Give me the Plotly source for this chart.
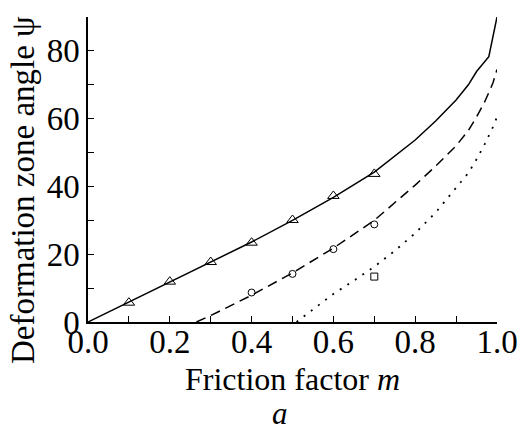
import plotly.graph_objects as go

# Curves
m_solid = [0, 0.1, 0.2, 0.3, 0.4, 0.5, 0.6, 0.7, 0.8, 0.85, 0.9, 0.93, 0.95, 0.98, 1.0]
psi_solid = [0, 5.9, 11.8, 17.7, 23.6, 30.0, 36.8, 44.2, 53.7, 59.3, 65.5, 70.0, 73.9, 78.3, 90.0]

m_dash = [0.265, 0.3, 0.4, 0.5, 0.6, 0.7, 0.8, 0.85, 0.9, 0.93, 0.95, 0.97, 0.99, 1.0]
psi_dash = [0, 1.9, 7.9, 14.5, 21.8, 30.0, 40.4, 46.0, 52.0, 56.5, 60.5, 65.0, 70.5, 74.5]

m_dot = [0.51, 0.55, 0.6, 0.65, 0.7, 0.75, 0.8, 0.85, 0.9, 0.93, 0.95, 0.97, 0.99, 1.0]
psi_dot = [0, 3.8, 8.3, 12.2, 16.3, 21.0, 26.2, 32.3, 39.5, 44.0, 48.0, 52.5, 57.5, 60.5]

# Experimental points
m_tri = [0.1, 0.2, 0.3, 0.4, 0.5, 0.6, 0.7]
psi_tri = [5.7, 11.9, 17.7, 23.4, 30.1, 37.2, 43.7]
m_circ = [0.4, 0.5, 0.6, 0.7]
psi_circ = [8.7, 14.2, 21.5, 28.8]
m_sq = [0.7]
psi_sq = [13.4]

x_tickvals = [0, 0.2, 0.4, 0.6, 0.8, 1.0]
x_ticktext = ["0.0", "0.2", "0.4", "0.6", "0.8", "1.0"]
y_tickvals = [0, 20, 40, 60, 80]

x_title = "Friction factor <i>m</i>"
y_title = "Deformation zone angle ψ"
panel_label = "<i>a</i>"

FONT = "Liberation Serif"

fig = go.Figure()
fig.add_trace(go.Scatter(x=m_solid, y=psi_solid, mode="lines",
                         line=dict(color="black", width=1.5)))
fig.add_trace(go.Scatter(x=m_dash, y=psi_dash, mode="lines",
                         line=dict(color="black", width=1.5, dash="10px,6px")))
fig.add_trace(go.Scatter(x=m_dot, y=psi_dot, mode="lines",
                         line=dict(color="black", width=1.8, dash="2px,7px")))
fig.add_trace(go.Scatter(x=m_tri, y=psi_tri, mode="markers",
                         marker=dict(symbol="triangle-up-open", size=10, color="black",
                                     line=dict(width=1))))
fig.add_trace(go.Scatter(x=m_circ, y=psi_circ, mode="markers",
                         marker=dict(symbol="circle-open", size=7, color="black",
                                     line=dict(width=1))))
fig.add_trace(go.Scatter(x=m_sq, y=psi_sq, mode="markers",
                         marker=dict(symbol="square-open", size=7, color="black",
                                     line=dict(width=1))))
# invisible carrier so that the tick-label axis (x2) is drawn
fig.add_trace(go.Scatter(x=x_tickvals, y=[None] * len(x_tickvals), xaxis="x2", yaxis="y",
                         mode="markers", marker=dict(opacity=0), hoverinfo="skip",
                         showlegend=False))

fig.update_layout(
    width=529, height=428,
    margin=dict(l=88, r=32, t=17, b=106),
    paper_bgcolor="white", plot_bgcolor="white",
    showlegend=False,
    font=dict(family=FONT, color="black", size=32),
    annotations=[
        dict(text=x_title, x=0.5, y=(322 - 379) / 305, xref="paper", yref="paper",
             xanchor="center", yanchor="middle", showarrow=False,
             font=dict(family=FONT, size=32, color="black")),
        dict(text=y_title, x=(23 - 88) / 409, y=(322 - 190) / 305, xref="paper", yref="paper",
             xanchor="center", yanchor="middle", showarrow=False, textangle=-90,
             font=dict(family=FONT, size=33, color="black")),
        dict(text=panel_label, x=(280 - 88) / 409, y=(322 - 413) / 305, xref="paper", yref="paper",
             xanchor="center", yanchor="middle", showarrow=False,
             font=dict(family=FONT, size=31, color="black")),
    ],
    xaxis=dict(
        range=[0, 1.0], tickvals=x_tickvals, showticklabels=False,
        showline=True, linecolor="black", linewidth=1.5,
        ticks="inside", ticklen=6, tickwidth=1, tickcolor="black",
        minor=dict(ticks="inside", dtick=0.1, ticklen=6, tickwidth=1, tickcolor="black"),
        showgrid=False, zeroline=False,
    ),
    xaxis2=dict(
        overlaying="x", anchor="free", position=0.01, side="bottom",
        range=[0, 1.0], tickvals=x_tickvals, ticktext=x_ticktext,
        showline=False, ticks="", showgrid=False, zeroline=False,
        tickfont=dict(family=FONT, size=33, color="black"),
    ),
    yaxis=dict(
        range=[0, 90], tickvals=y_tickvals,
        showline=True, linecolor="black", linewidth=1.5,
        ticks="inside", ticklen=6, tickwidth=1, tickcolor="black",
        minor=dict(ticks="inside", tickvals=[10, 30, 50, 70], ticklen=6, tickwidth=1, tickcolor="black"),
        showgrid=False, zeroline=False,
        tickfont=dict(family=FONT, size=33, color="black"),
    ),
)

fig.write_html("out.html")
